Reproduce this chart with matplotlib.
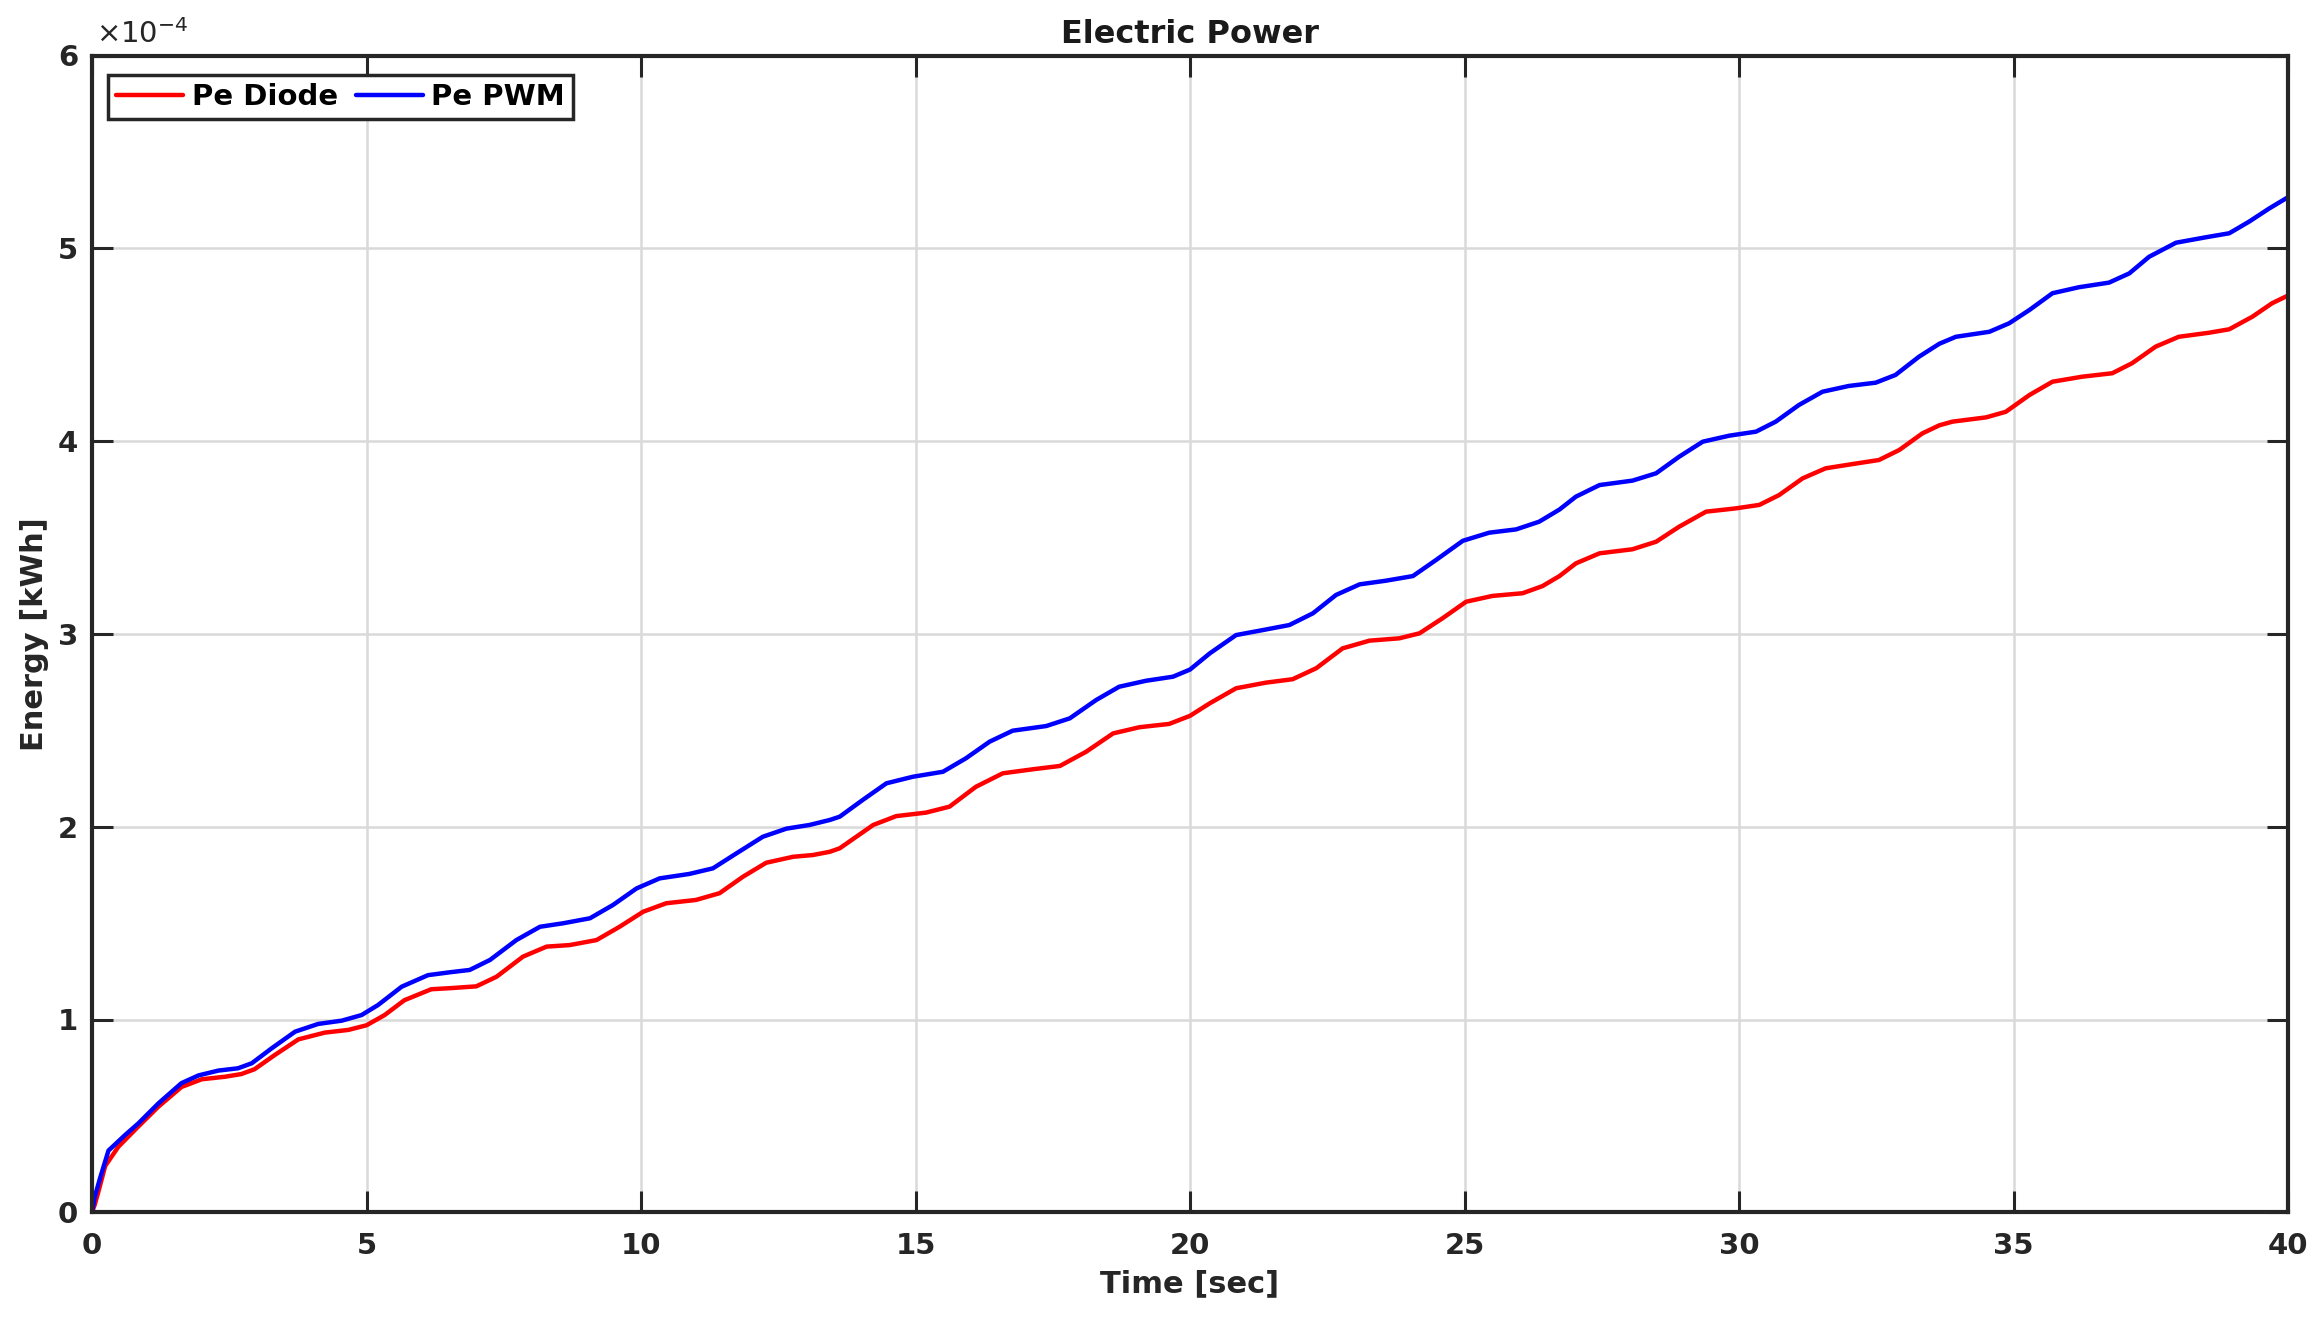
import matplotlib
matplotlib.use("Agg")
import matplotlib.pyplot as plt

# ---- data (energy in units of 1e-4 kWh) ----
t_diode = [0.0, 0.05, 0.11, 0.24, 0.48, 0.84, 1.21, 1.63, 2.0, 2.42, 2.72, 2.96, 3.33, 3.76,
           4.24, 4.67, 5.0, 5.33, 5.69, 6.18, 6.55, 7.0, 7.37, 7.85, 8.28, 8.70, 9.19, 9.61,
           10.04, 10.46, 11.0, 11.43, 11.86, 12.28, 12.77, 13.13, 13.44, 13.62, 14.23, 14.65,
           15.19, 15.62, 16.1, 16.59, 17.14, 17.63, 18.11, 18.6, 19.08, 19.62, 20.0, 20.36,
           20.84, 21.38, 21.87, 22.3, 22.78, 23.27, 23.81, 24.18, 24.6, 25.03, 25.51, 26.06,
           26.42, 26.73, 27.03, 27.46, 28.06, 28.49, 28.91, 29.4, 29.94, 30.37, 30.73, 31.16,
           31.58, 32.07, 32.55, 32.92, 33.34, 33.65, 33.89, 34.5, 34.86, 35.29, 35.71, 36.25,
           36.8, 37.16, 37.59, 38.01, 38.56, 38.93, 39.35, 39.71, 40.0]
e_diode = [0.0, 0.04, 0.10, 0.24, 0.34, 0.444, 0.548, 0.65, 0.69, 0.703, 0.717, 0.742, 0.816, 0.897,
           0.932, 0.946, 0.97, 1.023, 1.10, 1.157, 1.163, 1.172, 1.222, 1.326, 1.378, 1.386, 1.412, 1.481,
           1.559, 1.603, 1.62, 1.655, 1.741, 1.813, 1.844, 1.853, 1.87, 1.888, 2.009, 2.055,
           2.073, 2.104, 2.207, 2.277, 2.298, 2.315, 2.389, 2.484, 2.516, 2.533, 2.575, 2.64,
           2.718, 2.747, 2.765, 2.822, 2.925, 2.965, 2.977, 3.003, 3.081, 3.167, 3.197, 3.211,
           3.248, 3.30, 3.366, 3.418, 3.439, 3.478, 3.556, 3.634, 3.651, 3.669, 3.72, 3.807,
           3.859, 3.881, 3.902, 3.954, 4.04, 4.082, 4.101, 4.123, 4.152, 4.239, 4.308, 4.334,
           4.352, 4.404, 4.49, 4.541, 4.562, 4.58, 4.645, 4.715, 4.755]

t_pwm = [0.0, 0.05, 0.15, 0.3, 0.6, 0.84, 1.21, 1.63, 1.94, 2.30, 2.66, 2.91, 3.27, 3.70, 4.12,
         4.55, 4.91, 5.21, 5.64, 6.12, 6.52, 6.88, 7.25, 7.73, 8.16, 8.58, 9.07, 9.49, 9.92,
         10.34, 10.88, 11.31, 11.74, 12.22, 12.65, 13.07, 13.44, 13.62, 14.04, 14.47, 14.95,
         15.5, 15.92, 16.35, 16.77, 17.38, 17.81, 18.29, 18.71, 19.2, 19.69, 20.0, 20.36,
         20.84, 21.33, 21.81, 22.24, 22.66, 23.09, 23.57, 24.06, 24.48, 24.97, 25.45, 25.94,
         26.36, 26.73, 27.03, 27.46, 28.06, 28.49, 28.91, 29.34, 29.82, 30.31, 30.67, 31.09,
         31.52, 32.0, 32.49, 32.85, 33.28, 33.65, 33.95, 34.56, 34.92, 35.29, 35.71, 36.19,
         36.74, 37.11, 37.47, 37.96, 38.5, 38.93, 39.29, 39.66, 40.0]
e_pwm = [0.0, 0.08, 0.18, 0.32, 0.40, 0.46, 0.565, 0.67, 0.71, 0.735, 0.747, 0.773, 0.85, 0.937, 0.977,
         0.994, 1.023, 1.075, 1.17, 1.23, 1.245, 1.257, 1.309, 1.412, 1.481, 1.499, 1.525, 1.594, 1.68,
         1.732, 1.755, 1.784, 1.862, 1.948, 1.99, 2.009, 2.035, 2.052, 2.139, 2.225, 2.259,
         2.285, 2.355, 2.441, 2.498, 2.522, 2.562, 2.657, 2.726, 2.757, 2.778, 2.815, 2.899,
         2.994, 3.02, 3.046, 3.107, 3.202, 3.257, 3.276, 3.30, 3.383, 3.483, 3.525, 3.542,
         3.582, 3.645, 3.712, 3.772, 3.795, 3.833, 3.919, 3.997, 4.028, 4.049, 4.101, 4.187,
         4.256, 4.286, 4.303, 4.343, 4.438, 4.505, 4.541, 4.567, 4.611, 4.68, 4.767, 4.798,
         4.822, 4.87, 4.956, 5.029, 5.057, 5.078, 5.138, 5.207, 5.265]

series_labels = ["Pe Diode", "Pe PWM"]
x_ticks = [0, 5, 10, 15, 20, 25, 30, 35, 40]
y_ticks = [0, 1, 2, 3, 4, 5, 6]

plt.rcParams['font.family'] = ['DejaVu Sans']

fig = plt.figure(figsize=(23.12, 13.2), dpi=100)
ax = fig.add_axes([92/2312, 1 - 1212.3/1320, 2196/2312, 1156.8/1320])

ax.plot(t_diode, e_diode, color='#ff0000', lw=3.2, label=series_labels[0],
        solid_joinstyle='round', solid_capstyle='round')
ax.plot(t_pwm, e_pwm, color='#0000ff', lw=3.2, label=series_labels[1],
        solid_joinstyle='round', solid_capstyle='round')

ax.set_xlim(0, 40)
ax.set_ylim(0, 6)
ax.set_xticks(x_ticks)
ax.set_yticks(y_ticks)
ax.set_xticklabels([str(v) for v in x_ticks], fontweight='bold')
ax.set_yticklabels([str(v) for v in y_ticks], fontweight='bold')

ax.grid(True, color='#d9d9d9', lw=1.8)
ax.set_axisbelow(True)

for s in ax.spines.values():
    s.set_linewidth(3.0)
    s.set_color('#262626')

ax.tick_params(axis='both', which='major', direction='in', length=15, width=2.2,
               color='#262626', labelsize=21, labelcolor='#262626', pad=10,
               top=True, right=True)
ax.tick_params(axis='x', pad=14)

ax.set_title("Electric Power", fontsize=23, fontweight='bold', pad=9, color='#1a1a1a')
ax.set_xlabel("Time [sec]", fontsize=22, fontweight='bold', labelpad=7, color='#262626')
ax.set_ylabel("Energy [kWh]", fontsize=22, fontweight='bold', labelpad=6, color='#262626')

ax.text(0.002, 1.006, r'$\times$10$^{-4}$', transform=ax.transAxes, fontsize=21,
        ha='left', va='bottom', color='#262626')

leg = ax.legend(loc='upper left', bbox_to_anchor=(0.0073, 0.983), borderaxespad=0,
                ncol=2, fancybox=False, frameon=True, handlelength=2.3, handletextpad=0.3,
                columnspacing=0.6, borderpad=0.28,
                prop={'weight': 'bold', 'size': 21})
leg.get_frame().set_edgecolor('#262626')
leg.get_frame().set_linewidth(2.5)
leg.get_frame().set_alpha(1)
for h in leg.get_lines():
    h.set_linewidth(3.2)

fig.savefig("out.png", dpi=100, facecolor='white')
